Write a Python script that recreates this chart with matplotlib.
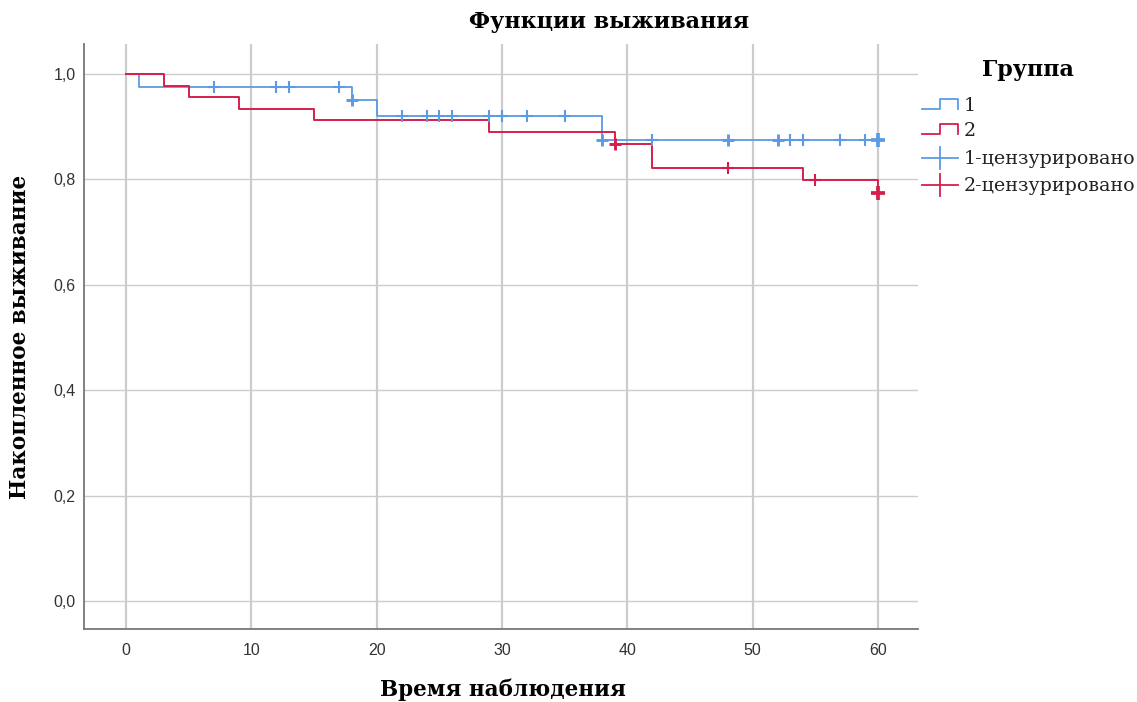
import numpy as np
import matplotlib
matplotlib.use('Agg')
import matplotlib.pyplot as plt
from matplotlib.lines import Line2D
from matplotlib.ticker import FuncFormatter

# Kaplan-Meier, группа 1
t1 = [0, 1, 18, 20, 38, 60]
s1 = [1.0, 0.976, 0.950, 0.920, 0.875, 0.875]
c1 = [7, 12, 13, 17, 18, 22, 24, 25, 26, 29, 30, 32, 35, 38, 42, 48, 52, 53, 54, 57, 59, 60]
n1 = [1, 1, 1, 1, 2, 1, 1, 1, 1, 1, 1, 1, 1, 2, 1, 2, 2, 1, 1, 1, 1, 3]

# группа 2
t2 = [0, 3, 5, 9, 15, 29, 39, 42, 54, 60]
s2 = [1.0, 0.978, 0.956, 0.934, 0.912, 0.890, 0.867, 0.822, 0.799, 0.775]
c2 = [39, 48, 55, 60]
n2 = [2, 1, 1, 3]

x_ticks = [0, 10, 20, 30, 40, 50, 60]
y_ticks = [0.0, 0.2, 0.4, 0.6, 0.8, 1.0]

BLUE = '#5C9BE4'
RED = '#D41F4C'
SERIF = 'DejaVu Serif'
SANS = 'Liberation Sans'


def step_value(t, s, x):
    i = np.searchsorted(t, x, side='right') - 1
    return np.asarray(s)[i]


W, H = 1137, 702
fig = plt.figure(figsize=(W / 100, H / 100), dpi=100)
ax = fig.add_axes([84 / W, 1 - 629 / H, (918 - 84) / W, (629 - 44) / H])

ax.step(t1, s1, where='post', color=BLUE, lw=1.3, zorder=3)
ax.step(t2, s2, where='post', color=RED, lw=1.4, zorder=3)

for x, n in zip(c1, n1):
    ax.plot(x, step_value(t1, s1, x), marker='+', ms=7 + n, mew=0.9 + 0.6 * n,
            color=BLUE, zorder=4)
for x, n in zip(c2, n2):
    ax.plot(x, step_value(t2, s2, x), marker='+', ms=7 + n, mew=0.9 + 0.6 * n,
            color=RED, zorder=5)

ax.set_xlim(-3.35, 63.2)
ax.set_ylim(-0.053, 1.057)
ax.set_xticks(x_ticks)
ax.set_yticks(y_ticks)
ax.yaxis.set_major_formatter(FuncFormatter(lambda v, p: f'{v:.1f}'.replace('.', ',')))
ax.tick_params(length=0, labelsize=11.5, labelcolor='#333333', pad=6)
ax.tick_params(axis='x', pad=10)
for lab in ax.get_xticklabels() + ax.get_yticklabels():
    lab.set_family(SANS)

ax.grid(True, color='#CCCCCC', lw=1.0, zorder=0)
for gl in ax.xaxis.get_gridlines():
    gl.set_linewidth(1.6)
ax.spines[['top', 'right']].set_visible(False)
for sp in ['left', 'bottom']:
    ax.spines[sp].set_color('#777777')
    ax.spines[sp].set_linewidth(1.3)

fig.text(609 / W, 1 - 22 / H, 'Функции выживания', family=SERIF, weight='bold',
         fontsize=16, ha='center', va='center')
fig.text(503 / W, 1 - 690 / H, 'Время наблюдения', family=SERIF, weight='bold',
         fontsize=15.5, ha='center', va='center')
fig.text(20 / W, 1 - 337 / H, 'Накопленное выживание', family=SERIF, weight='bold',
         fontsize=15.5, ha='center', va='center', rotation=90)

# легенда
fig.text(1028 / W, 1 - 70 / H, 'Группа', family=SERIF, weight='bold',
         fontsize=16, ha='center', va='center')


def fx(px):
    return px / W


def fy(py):
    return 1 - py / H


entries = [('1', BLUE, 'step', 105), ('2', RED, 'step', 130),
           ('1-цензурировано', BLUE, 'cross', 158), ('2-цензурировано', RED, 'cross', 185)]
for label, col, kind, yc in entries:
    if kind == 'step':
        xs = [922, 940, 940, 958, 958]
        ys = [yc + 4, yc + 4, yc - 6, yc - 6, yc + 4]
        fig.add_artist(Line2D([fx(v) for v in xs], [fy(v) for v in ys],
                              color=col, lw=1.3))
    else:
        fig.add_artist(Line2D([fx(922), fx(958)], [fy(yc), fy(yc)], color=col, lw=1.3))
        fig.add_artist(Line2D([fx(940), fx(940)], [fy(yc - 11), fy(yc + 11)],
                              color=col, lw=1.3))
    fig.text(fx(964), fy(yc + 1), label, family=SERIF, fontsize=13.7,
             ha='left', va='center', color='#222222')

fig.savefig('out.png', dpi=100)
